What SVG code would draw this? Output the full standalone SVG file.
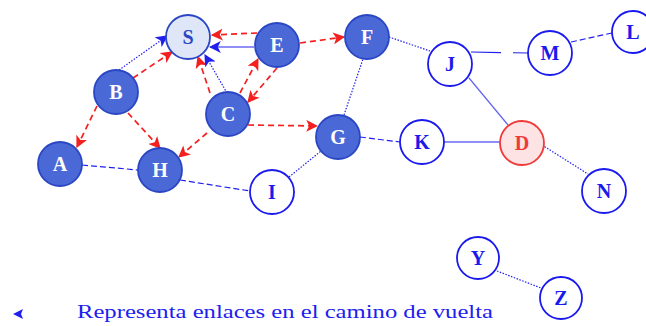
<svg xmlns="http://www.w3.org/2000/svg" width="646" height="326" viewBox="0 0 646 326">
<style>
.nd circle{stroke-width:1.8}
.fill circle{fill:#4a69d6;stroke:#2a46c4}
.fill text{fill:#ffffff}
.open circle{fill:#ffffff;stroke:#1a1aee}
.open text{fill:#1a1aee}
.src circle{fill:#dfe6f7;stroke:#2a46c4}
.src text{fill:#2a46c4}
.dst circle{fill:#fde3e3;stroke:#f03a3a}
.dst text{fill:#f03a3a}
text.lb{font-family:"Liberation Serif","DejaVu Serif",serif;font-size:20px;font-weight:bold;text-anchor:middle;dominant-baseline:central}
.red{stroke:#f42020;stroke-width:1.7;stroke-dasharray:6 4;fill:none;marker-end:url(#ar)}
.blu{stroke:#2020ee;stroke-width:1.2;fill:none}
.dot{stroke-dasharray:1.5 1.5}
.dash{stroke-dasharray:6 3}
.ldash{stroke-dasharray:30 12}
.ba{marker-end:url(#ab)}
.legend{font-family:"Liberation Serif","DejaVu Serif",serif;font-size:18px;fill:#2020ee}
</style>
<defs>
<marker id="ar" viewBox="0 0 10 10" refX="9" refY="5" markerWidth="12" markerHeight="12" markerUnits="userSpaceOnUse" orient="auto">
<path d="M0,0 L10,5 L0,10 L2.5,5 Z" fill="#f42020"/>
</marker>
<marker id="ab" viewBox="0 0 10 10" refX="9" refY="5" markerWidth="12" markerHeight="12" markerUnits="userSpaceOnUse" orient="auto">
<path d="M0,0 L10,5 L0,10 L2.5,5 Z" fill="#2020ee"/>
</marker>
</defs>
<g id="connectors">
<line class="blu dot ba" x1="119" y1="70" x2="167" y2="36"/>
<line class="red" x1="133" y1="78" x2="172" y2="52"/>
<line class="red" x1="257" y1="33" x2="212" y2="35"/>
<line class="blu ba" x1="254" y1="47" x2="210" y2="47"/>
<line class="red" x1="210" y1="93" x2="198" y2="57"/>
<line class="blu dot ba" x1="227" y1="93" x2="205" y2="55"/>
<line class="red" x1="240" y1="93" x2="258" y2="59"/>
<line class="red" x1="277" y1="68" x2="248" y2="102"/>
<line class="red" x1="300" y1="43" x2="344" y2="37"/>
<line class="red" x1="248" y1="125" x2="317" y2="126"/>
<line class="red" x1="207" y1="133" x2="179" y2="157"/>
<line class="red" x1="128" y1="113" x2="160" y2="148"/>
<line class="red" x1="97" y1="106" x2="77" y2="147"/>
<line class="blu dash" x1="82" y1="165" x2="138" y2="170"/>
<line class="blu dash" x1="180" y1="180" x2="250" y2="191"/>
<line class="blu dot" x1="289" y1="177" x2="321" y2="151"/>
<line class="blu dot" x1="344" y1="115" x2="363" y2="59"/>
<line class="blu dash" x1="360" y1="137" x2="400" y2="142"/>
<line class="blu dot" x1="389" y1="37" x2="430" y2="51"/>
<line class="blu ldash" x1="471" y1="52" x2="528" y2="53"/>
<line class="blu dash" x1="571" y1="42" x2="612" y2="33"/>
<line class="blu" stroke-width="0.8" stroke-opacity="0.7" x1="469" y1="78" x2="508" y2="125"/>
<line class="blu" x1="444" y1="142" x2="500" y2="142"/>
<line class="blu dot" x1="542" y1="145" x2="588" y2="174"/>
<line class="blu dot" x1="497" y1="271" x2="541" y2="288"/>
</g>
<g id="node-S" class="nd src"><circle cx="188" cy="37" r="22"/><text class="lb" x="188" y="37">S</text></g>
<g id="node-E" class="nd fill"><circle cx="277" cy="45" r="22"/><text class="lb" x="277" y="45">E</text></g>
<g id="node-B" class="nd fill"><circle cx="116" cy="92" r="22"/><text class="lb" x="116" y="92">B</text></g>
<g id="node-C" class="nd fill"><circle cx="228" cy="114" r="22"/><text class="lb" x="228" y="114">C</text></g>
<g id="node-A" class="nd fill"><circle cx="60" cy="164" r="22"/><text class="lb" x="60" y="164">A</text></g>
<g id="node-H" class="nd fill"><circle cx="160" cy="170" r="22"/><text class="lb" x="160" y="170">H</text></g>
<g id="node-I" class="nd open"><circle cx="272" cy="192" r="22"/><text class="lb" x="272" y="192">I</text></g>
<g id="node-G" class="nd fill"><circle cx="338" cy="137" r="22"/><text class="lb" x="338" y="137">G</text></g>
<g id="node-F" class="nd fill"><circle cx="367" cy="37" r="22"/><text class="lb" x="367" y="37">F</text></g>
<g id="node-J" class="nd open"><circle cx="450" cy="64" r="22"/><text class="lb" x="450" y="64">J</text></g>
<g id="node-M" class="nd open"><circle cx="550" cy="53" r="22"/><text class="lb" x="550" y="53">M</text></g>
<g id="node-L" class="nd open"><circle cx="633" cy="32" r="21"/><text class="lb" x="633" y="32">L</text></g>
<g id="node-K" class="nd open"><circle cx="422" cy="142" r="22"/><text class="lb" x="422" y="142">K</text></g>
<g id="node-D" class="nd dst"><circle cx="522" cy="143" r="22"/><text class="lb" x="522" y="143">D</text></g>
<g id="node-N" class="nd open"><circle cx="604" cy="191" r="22"/><text class="lb" x="604" y="191">N</text></g>
<g id="node-Y" class="nd open"><circle cx="478" cy="258" r="21"/><text class="lb" x="478" y="258">Y</text></g>
<g id="node-Z" class="nd open"><circle cx="561" cy="298" r="21"/><text class="lb" x="561" y="298">Z</text></g>
<g id="legend">
<path d="M13,314 L23,309 L21,314 L23,319 Z" fill="#2020ee"/>
<text class="legend" x="77" y="318" textLength="416" lengthAdjust="spacingAndGlyphs">Representa enlaces en el camino de vuelta</text>
</g>
</svg>
